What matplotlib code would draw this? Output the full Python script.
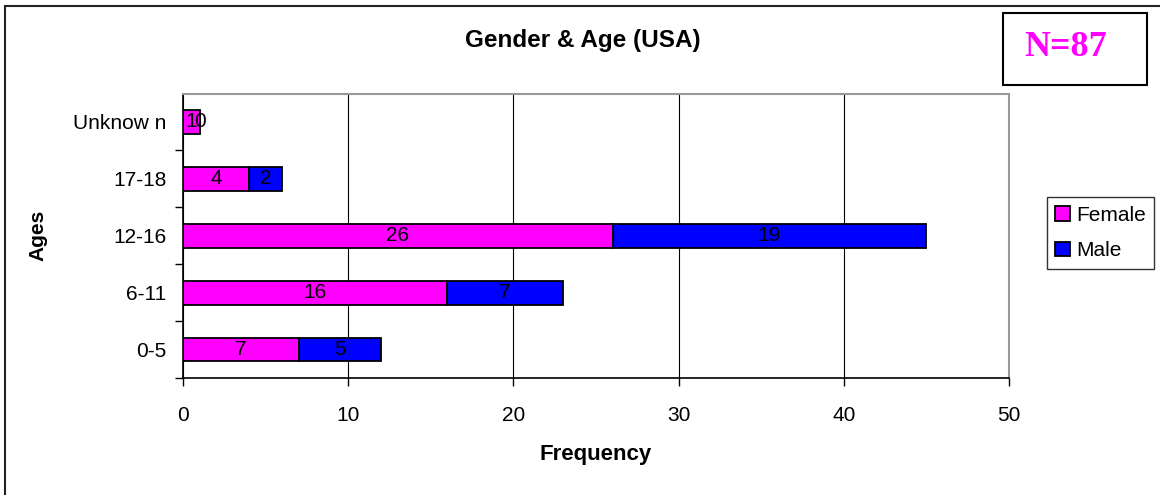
import numpy as np
import matplotlib.pyplot as plt
from matplotlib.patches import Rectangle

# datos
edades = ['0-5', '6-11', '12-16', '17-18', 'Unknow n']
female = [7, 16, 26, 4, 1]
male = [5, 7, 19, 2, 0]
n_total = 87

rosa = '#FF00FF'
azul = '#0000FF'

plt.rcParams['font.family'] = ['Liberation Sans', 'DejaVu Sans']

fig = plt.figure(figsize=(11.6, 4.95), dpi=100)
ax = fig.add_axes([183 / 1160, 1 - 378 / 495, 826 / 1160, 284.5 / 495])

y = np.arange(len(edades))
alto = 0.42
b1 = ax.barh(y, female, height=alto, color=rosa, edgecolor='black', linewidth=1.3,
             label='Female', zorder=3)
b2 = ax.barh(y, male, height=alto, left=female, color=azul, edgecolor='black',
             linewidth=1.3, label='Male', zorder=3)

# etiquetas dentro de cada tramo
for i in range(len(edades)):
    ax.text(female[i] / 2, y[i], str(female[i]), ha='center', va='center',
            fontsize=15, zorder=4)
    ax.text(female[i] + male[i] / 2, y[i], str(male[i]), ha='center', va='center',
            fontsize=15, zorder=4)

ax.set_xlim(0, 50)
ax.set_ylim(-0.5, len(edades) - 0.5)
ax.set_xticks(range(0, 51, 10))
ax.set_yticks(y)
ax.set_yticklabels(edades)
ax.set_yticks(np.arange(-0.5, len(edades) - 1, 1), minor=True)
ax.tick_params(axis='y', which='major', length=0, pad=12, labelsize=15)
ax.tick_params(axis='y', which='minor', length=6, width=1, direction='out')
ax.tick_params(axis='x', length=6, width=1, direction='out', pad=14, labelsize=15)
ax.grid(axis='x', color='black', linewidth=0.8, zorder=0)
for s in ['top', 'right']:
    ax.spines[s].set_color('#999999')
    ax.spines[s].set_linewidth(1.5)
ax.spines['left'].set_linewidth(1.2)
ax.spines['bottom'].set_linewidth(1.2)

ax.set_xlabel('Frequency', fontsize=16, fontweight='bold', labelpad=14)
ax.set_ylabel('Ages', fontsize=15, fontweight='bold', labelpad=18)
fig.text(583 / 1160, 1 - 40 / 495, 'Gender & Age (USA)', ha='center', va='center',
         fontsize=17.5, fontweight='bold')

leg = ax.legend(loc='center left', bbox_to_anchor=(1047 / 1160, 1 - 233 / 495),
                bbox_transform=fig.transFigure, frameon=True, fancybox=False,
                edgecolor='black', fontsize=15, handlelength=0.7, handleheight=0.7,
                handletextpad=0.3, borderpad=0.4, labelspacing=0.8, borderaxespad=0)
leg.get_frame().set_linewidth(1.0)

# caja N=87
fig.patches.append(Rectangle((1003 / 1160, 1 - 85 / 495), 144 / 1160, 72 / 495,
                             transform=fig.transFigure, fill=False, edgecolor='black',
                             linewidth=1.5))
fig.text(1066 / 1160, 1 - 47 / 495, f'N={n_total}', ha='center', va='center',
         fontsize=26, fontweight='bold', color=rosa, family='Liberation Serif')

# marco exterior
fig.patches.append(Rectangle((4.5 / 1160, -0.1), 1.2, 1 - 6.5 / 495 + 0.1,
                             transform=fig.transFigure, fill=False, edgecolor='#222222',
                             linewidth=1.5))

fig.savefig('out.png', dpi=100, facecolor='white')
